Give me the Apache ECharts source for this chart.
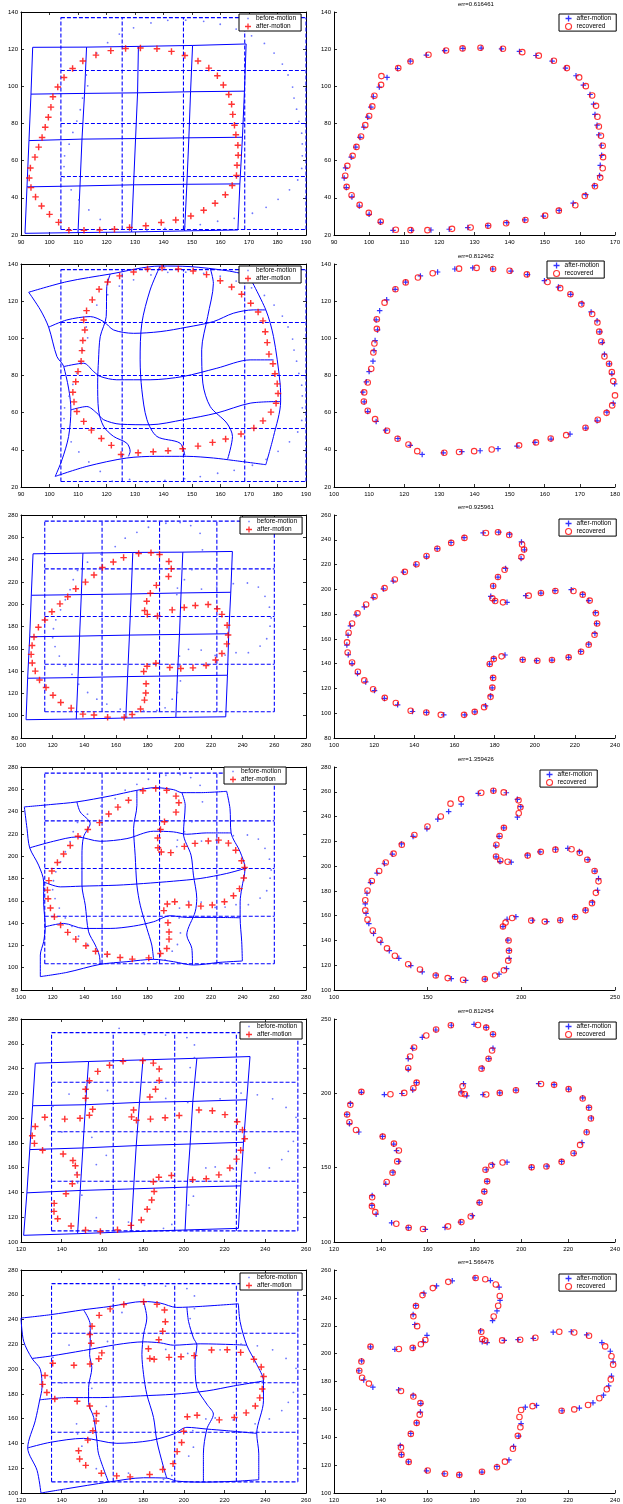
<!DOCTYPE html>
<html><head><meta charset="utf-8">
<script src="https://cdn.jsdelivr.net/npm/echarts/dist/echarts.min.js"></script>
<style>html,body{margin:0;padding:0;background:#fff}#c{width:623px;height:1504px}</style>
</head><body><div id="c"></div>
<script>
// ---------- axis ranges / tick settings [min,max,interval] ----------
const xRangeL = [[90,190,10],[90,190,10],[100,280,20],[100,280,20],[120,260,20],[120,260,20]];
const yRangeL = [[20,140,20],[20,140,20],[80,280,20],[80,280,20],[100,280,20],[100,280,20]];
const xRangeR = [[90,170,10],[100,180,10],[100,240,20],[100,250,50],[120,240,20],[120,240,20]];
const yRangeR = [[20,140,20],[20,140,20],[80,260,20],[100,280,20],[100,250,50],[100,260,20]];
const errTitles = ['err=0.616461','err=0.812462','err=0.925961','err=1.359426','err=0.812454','err=1.566476'];

// ---------- undeformed (dashed) control grids ----------
const dashX12 = [104,125.5,147,168.5,190], dashY12 = [23,51.5,80,108.5,137];
const dashX34 = [115,151.2,187.5,223.7,260], dashY34 = [103.5,146.2,189,231.7,274.5];
const dashX56 = [135,165.3,195.5,225.8,256], dashY56 = [109,149,189,229,269];

// ---------- before-motion points ----------
const before12 = [[120.4,123.5],[124.5,128.1],[129.5,131.5],[135.6,134.1],[141.5,135.5],[147.8,135.6],[154.1,135.0],[159.9,133.4],[165.5,130.8],[170.9,127.2],[175.4,123.1],[178.8,117.9],[181.7,112.0],[183.7,106.1],[185.3,99.6],[185.8,93.7],[186.7,87.7],[187.5,81.1],[188.5,74.8],[188.7,69.0],[188.7,62.6],[188.5,55.8],[187.1,49.6],[184.2,44.3],[180.2,39.2],[176.0,34.9],[171.2,31.7],[164.8,29.0],[159.0,27.4],[152.9,25.6],[147.4,24.5],[140.5,23.6],[134.2,22.7],[128.1,24.1],[122.0,23.1],[117.8,28.4],[113.8,33.5],[110.3,38.9],[107.6,44.3],[105.1,51.3],[105.1,56.8],[105.3,62.6],[106.9,68.9],[108.2,75.2],[109.6,81.3],[110.8,87.4],[111.6,93.7],[113.4,100.3],[112.9,106.1],[116.6,117.9]];
const before34 = [[135.7,230.3],[142.0,237.7],[150.5,245.0],[159.5,251.7],[165.8,259.2],[173.2,264.5],[180.5,269.0],[191.5,272.6],[200.5,273.2],[207.2,270.5],[213.1,263.6],[214.6,248.8],[207.9,231.0],[203.2,222.0],[198.8,214.5],[198.4,208.6],[214.0,213.6],[223.6,215.4],[234.1,218.4],[243.0,219.0],[249.9,215.4],[254.1,207.1],[256.9,197.3],[258.0,187.7],[257.3,180.3],[255.2,169.0],[251.0,162.4],[243.6,156.5],[235.8,156.5],[228.9,154.4],[222.6,154.1],[213.8,158.9],[205.8,159.5],[200.1,153.5],[199.9,144.6],[200.7,131.2],[198.8,120.8],[195.5,114.8],[191.0,107.1],[185.8,104.7],[177.4,104.4],[162.7,105.9],[154.2,110.4],[147.9,114.8],[142.1,120.8],[136.4,128.2],[132.2,137.1],[128.0,144.6],[124.2,153.5],[121.5,162.0],[120.0,170.0],[120.5,178.0],[122.0,186.0],[125.0,195.0],[128.0,204.0],[131.0,213.0],[133.0,222.0]];
const before56 = [[168.2,272.5],[180.7,267.7],[191.0,267.0],[201.5,265.0],[205.2,259.1],[205.2,248.9],[203.1,240.8],[196.2,229.0],[191.1,215.9],[201.9,212.7],[217.8,215.6],[228.1,220.2],[236.1,218.8],[243.6,215.6],[250.2,208.6],[255.1,200.6],[255.9,192.0],[253.8,181.3],[251.3,173.2],[248.1,166.5],[242.0,159.8],[235.0,155.8],[224.3,159.0],[215.4,160.6],[210.8,159.8],[204.4,150.4],[204.7,137.0],[202.4,129.8],[194.1,114.2],[190.0,111.0],[181.0,108.9],[172.8,116.1],[157.0,119.6],[149.9,137.8],[147.8,147.8],[147.3,155.8],[157.0,162.5],[161.9,170.0],[154.8,184.5],[140.1,188.8],[134.4,193.9],[135.7,209.5],[143.6,219.4],[162.5,222.3],[169.6,245.7]];

// ---------- after-motion points ----------
const after1 = [[126.7,120.4],[131.9,120.6],[137.7,120.2],[142.8,118.8],[147.5,116.6],[152.1,113.6],[155.9,109.8],[158.9,105.7],[161.0,100.7],[162.9,95.6],[163.9,90.4],[164.3,84.9],[164.9,79.1],[165.4,73.9],[166.1,68.3],[166.2,62.9],[165.8,57.5],[165.6,52.0],[164.1,46.6],[161.7,41.7],[158.1,37.1],[154.1,33.3],[149.6,30.2],[144.3,28.1],[139.2,26.7],[133.8,25.0],[128.1,24.0],[122.8,23.1],[117.6,22.7],[112.1,22.5],[106.8,22.5],[103.2,26.8],[100.0,31.1],[97.2,35.6],[95.1,40.5],[93.5,45.5],[92.9,50.7],[93.3,56.1],[94.9,61.9],[96.2,67.3],[97.4,72.5],[98.5,78.0],[99.6,83.4],[100.5,88.8],[101.2,94.4],[102.9,99.6],[105.1,104.8],[108.1,109.6],[111.7,113.6],[116.3,116.8],[121.5,119.2]];
const after2 = [[129.5,135.7],[134.4,137.3],[139.5,137.9],[145.2,137.3],[150.4,136.2],[155.1,134.3],[159.9,131.0],[163.9,127.6],[167.4,123.7],[170.6,118.9],[173.2,114.2],[174.9,109.4],[175.7,103.5],[176.4,97.7],[177.0,91.5],[178.4,86.3],[179.1,80.9],[179.9,75.5],[180.2,70.3],[179.5,65.1],[177.7,60.3],[174.9,55.6],[171.7,51.7],[167.2,48.5],[161.8,45.8],[157.2,44.0],[152.1,42.0],[146.7,40.6],[141.6,39.5],[136.4,39.0],[131.1,38.4],[125.1,37.5],[121.7,42.4],[118.2,46.1],[114.7,50.6],[112.0,55.3],[109.6,60.6],[108.6,65.8],[108.2,71.0],[109.2,76.6],[110.0,82.1],[111.1,87.7],[111.4,93.4],[111.7,98.8],[112.4,104.5],[112.0,109.9],[113.0,114.9],[115.0,120.7],[117.4,126.4],[120.4,130.3],[124.6,133.6]];
const after3 = [[174.3,245.5],[182.1,246.1],[187.5,244.5],[193.4,238.3],[194.9,231.9],[193.2,224.9],[185.5,216.9],[181.7,209.9],[179.4,202.7],[178.1,194.4],[179.8,190.9],[186.2,189.5],[195.5,194.9],[203.1,197.0],[210.1,198.9],[218.2,199.7],[223.9,196.0],[226.9,190.9],[230.2,181.2],[230.8,172.4],[230.0,164.4],[226.9,155.8],[222.9,149.9],[216.9,145.1],[208.6,142.9],[200.9,142.4],[194.0,143.2],[185.2,147.0],[179.6,144.3],[177.5,139.7],[179.0,128.7],[178.8,120.4],[178.0,114.0],[175.5,106.0],[170.2,101.1],[165.2,98.7],[154.7,98.7],[146.1,100.6],[139.1,101.4],[131.7,106.8],[125.1,111.9],[120.2,118.3],[115.8,125.3],[111.7,132.0],[109.0,140.0],[107.1,147.2],[106.4,155.0],[107.0,163.0],[108.2,170.5],[111.0,179.4],[115.1,185.8],[119.5,193.3],[124.6,200.3],[129.5,206.7],[134.6,213.9],[140.7,219.8],[146.1,226.2],[151.4,232.9],[158.3,237.8],[164.8,241.8]];
const after4 = [[177.0,258.7],[185.1,260.8],[192.0,259.2],[197.9,253.9],[199.7,248.0],[197.9,239.5],[190.6,230.9],[188.1,224.0],[186.3,216.3],[186.5,207.5],[188.6,203.7],[194.6,203.2],[203.2,208.8],[209.9,211.5],[218.3,213.6],[224.8,214.4],[231.0,211.7],[235.6,205.3],[239.3,196.0],[241.2,189.9],[240.7,180.5],[238.0,170.9],[234.2,164.5],[228.5,159.2],[220.8,156.3],[213.6,155.2],[206.0,156.3],[197.1,159.2],[192.4,157.1],[190.2,151.2],[192.8,140.3],[193.5,132.0],[193.5,125.6],[192.1,117.3],[188.1,112.8],[180.7,108.8],[170.3,107.7],[162.6,109.1],[154.5,112.0],[147.1,114.7],[141.0,119.7],[134.6,125.6],[129.5,131.7],[125.0,138.4],[121.1,145.6],[118.6,153.6],[117.1,161.9],[116.7,169.6],[117.6,178.1],[119.5,186.7],[123.0,194.4],[126.9,201.9],[131.1,209.6],[136.0,217.9],[142.2,224.0],[149.6,230.1],[155.4,237.9],[161.2,244.0],[167.9,250.1]];
const after5 = [[179.8,246.4],[185.0,244.4],[187.9,239.7],[187.9,230.4],[186.1,223.3],[183.3,217.0],[175.3,206.5],[174.3,201.0],[176.7,198.3],[183.6,199.2],[190.8,200.3],[197.7,202.1],[207.4,206.5],[214.0,205.9],[220.2,202.8],[226.2,197.0],[228.8,190.5],[229.9,183.4],[227.9,174.0],[225.9,166.9],[222.6,159.7],[217.2,154.2],[211.0,151.0],[204.3,150.2],[193.9,153.7],[187.7,152.2],[185.0,148.6],[185.4,140.8],[184.2,133.9],[182.0,126.5],[179.1,117.8],[174.0,113.4],[167.4,109.8],[159.0,108.5],[151.7,109.6],[144.6,112.9],[138.0,118.7],[136.2,124.7],[136.3,131.2],[142.1,139.0],[145.2,147.0],[147.6,154.2],[146.7,161.5],[145.5,165.8],[140.7,171.1],[130.6,174.0],[126.6,179.6],[125.5,185.8],[127.0,193.2],[131.7,200.7],[141.5,199.2],[149.0,199.9],[153.6,202.3],[155.2,207.2],[151.7,216.1],[151.7,223.3],[153.6,230.2],[157.7,237.7],[163.5,242.6],[170.1,245.8]];
const after6 = [[180.2,254.3],[186.8,252.4],[190.5,247.7],[190.9,238.2],[189.6,230.6],[187.7,223.7],[182.6,216.4],[183.3,208.6],[185.4,207.9],[192.7,209.5],[198.6,210.0],[205.1,210.9],[213.6,215.4],[221.3,215.7],[227.9,213.5],[234.4,207.9],[238.0,201.7],[239.2,194.1],[238.5,183.9],[237.3,176.8],[235.1,170.2],[230.6,164.7],[224.8,160.9],[217.4,159.0],[206.5,162.8],[201.7,161.6],[199.9,149.8],[198.9,140.8],[196.7,133.4],[194.7,123.7],[189.6,119.0],[183.2,115.0],[173.6,113.0],[167.0,113.8],[159.5,115.9],[151.8,122.3],[148.8,127.5],[148.3,134.1],[152.8,142.7],[155.3,150.3],[156.9,158.1],[157.1,164.2],[153.8,170.2],[147.6,174.0],[136.6,175.9],[132.7,181.1],[130.6,187.7],[131.8,194.8],[135.6,204.8],[146.0,203.1],[153.9,204.1],[158.2,208.4],[159.7,213.1],[154.5,220.9],[153.8,228.0],[154.9,234.6],[158.4,243.4],[163.8,248.6],[170.5,252.2]];

// ---------- recovered points ----------
const rec1 = [[131.7,120.8],[126.6,120.4],[121.9,119.3],[116.9,117.0],[111.8,113.4],[108.3,109.8],[103.5,105.5],[103.4,100.8],[101.5,94.9],[100.9,89.2],[100.0,84.0],[98.9,79.1],[97.7,73.0],[96.4,67.4],[95.3,62.6],[93.8,57.2],[93.2,51.9],[93.6,45.9],[95.0,41.4],[97.3,36.2],[99.9,31.9],[103.3,27.2],[107.6,22.8],[111.8,22.6],[116.6,22.6],[123.6,23.3],[128.9,24.0],[133.9,25.0],[139.0,26.3],[144.5,28.1],[150.1,30.4],[154.0,33.1],[158.7,36.0],[161.4,41.0],[164.3,46.2],[165.8,50.9],[166.5,55.9],[166.6,61.9],[166.5,68.0],[166.0,73.4],[165.4,78.4],[165.0,83.6],[164.6,89.5],[163.5,95.1],[161.7,100.1],[159.8,104.8],[156.3,109.8],[152.6,113.8],[148.3,116.5],[143.6,118.4],[138.1,120.2]];
const rec2 = [[135.6,137.5],[140.6,137.9],[145.3,137.3],[150.0,136.4],[154.9,134.4],[160.8,130.3],[164.4,127.0],[167.3,123.7],[170.4,118.3],[173.5,113.1],[175.0,108.5],[175.5,103.6],[176.1,98.3],[177.0,90.2],[178.3,86.3],[179.1,81.8],[179.5,77.0],[180.0,69.3],[179.2,63.9],[177.6,59.9],[175.1,56.2],[171.6,51.9],[166.1,47.9],[161.7,46.1],[157.5,44.0],[152.7,42.4],[144.9,40.2],[139.9,39.3],[135.6,38.8],[131.4,38.4],[123.7,39.3],[121.2,42.9],[118.1,46.0],[115.1,50.3],[111.7,56.5],[109.6,61.0],[108.5,66.0],[108.6,70.9],[109.6,76.2],[110.6,83.6],[111.2,92.4],[111.5,97.2],[112.2,105.1],[112.2,110.3],[114.4,119.2],[117.5,126.4],[120.4,130.1],[123.9,132.7],[128.1,135.0]];
const rec3 = [[175.7,245.5],[181.7,246.1],[187.3,243.9],[193.7,236.2],[194.7,232.1],[193.4,226.0],[185.0,215.8],[181.7,209.9],[179.3,202.7],[178.9,192.8],[180.3,190.6],[184.2,189.5],[197.0,194.9],[203.1,197.0],[210.3,198.7],[219.3,198.7],[223.9,195.7],[227.4,190.9],[230.5,180.7],[231.1,172.4],[229.8,163.3],[226.9,155.3],[223.1,149.6],[216.9,145.1],[208.6,142.9],[201.3,142.4],[194.0,143.2],[183.5,145.9],[179.6,143.7],[177.6,139.7],[179.3,128.5],[178.9,120.7],[178.0,113.2],[174.8,104.9],[170.1,101.1],[164.8,98.7],[153.2,98.7],[146.0,100.6],[138.2,102.0],[130.8,108.2],[125.3,112.4],[119.5,119.4],[115.1,126.5],[111.9,133.5],[109.0,141.0],[106.8,149.0],[106.5,157.2],[107.3,164.9],[109.0,172.4],[111.7,180.6],[116.0,187.7],[120.2,194.3],[125.2,201.0],[130.3,207.9],[135.3,214.1],[141.1,220.3],[146.1,226.9],[151.5,232.8],[158.4,237.5],[165.0,241.5]];
const rec4 = [[178.6,259.2],[185.1,260.8],[190.6,259.5],[198.5,253.1],[199.5,247.5],[198.6,242.7],[190.7,230.9],[188.4,224.3],[186.7,217.3],[186.5,207.7],[188.8,204.5],[192.7,203.5],[203.4,208.5],[210.4,211.5],[218.2,213.3],[226.8,213.6],[231.2,210.7],[235.2,205.1],[239.1,196.0],[241.2,187.7],[239.8,178.4],[237.7,170.1],[234.3,164.3],[228.7,158.9],[220.8,156.3],[212.5,155.2],[205.3,156.0],[195.1,158.1],[191.6,154.4],[190.2,151.2],[193.2,140.0],[193.4,131.7],[193.0,123.7],[190.7,116.0],[186.0,111.7],[180.5,108.8],[168.9,108.3],[160.7,109.6],[154.3,111.7],[145.9,116.5],[139.6,120.8],[132.5,127.7],[128.3,133.6],[124.3,140.5],[120.7,148.0],[117.9,156.8],[116.7,164.3],[116.7,172.5],[117.9,180.3],[120.2,188.0],[124.1,196.0],[127.6,202.9],[131.8,210.1],[136.2,217.3],[142.9,225.1],[149.9,232.0],[157.0,240.0],[162.2,250.4],[167.9,254.1]];
const rec5 = [[181.5,246.0],[185.0,244.2],[187.9,239.7],[187.5,228.8],[186.0,223.3],[183.0,216.6],[174.9,204.8],[174.4,199.9],[175.9,199.4],[185.0,199.2],[190.8,200.3],[197.7,202.1],[208.4,206.3],[214.0,205.7],[220.2,202.8],[226.2,196.5],[228.9,190.3],[229.7,183.1],[227.9,173.8],[225.1,165.3],[222.3,159.7],[217.2,153.9],[210.7,150.8],[204.4,150.2],[192.0,153.5],[187.2,151.5],[184.7,148.6],[185.4,140.8],[184.2,133.9],[182.2,126.5],[178.4,117.2],[174.4,113.4],[168.7,110.5],[158.0,108.7],[151.9,109.6],[146.6,112.3],[137.6,120.1],[136.2,124.1],[136.3,130.1],[142.5,140.4],[145.0,146.6],[147.0,154.2],[147.7,161.5],[145.6,166.2],[140.8,170.9],[129.4,175.3],[126.6,180.5],[125.6,185.8],[127.0,192.3],[131.7,201.0],[144.1,199.4],[150.0,200.3],[153.9,203.4],[155.3,207.2],[151.7,217.0],[152.5,224.8],[154.2,230.8],[159.4,238.9],[163.6,242.9],[169.9,245.8]];
const rec6 = [[180.5,254.3],[184.6,253.4],[189.1,249.6],[190.8,241.3],[190.1,234.4],[188.2,226.6],[182.9,215.7],[183.3,210.5],[184.6,209.3],[191.8,209.5],[199.5,210.0],[206.0,211.4],[216.2,215.7],[222.6,215.2],[228.9,212.8],[235.8,205.2],[238.5,198.1],[239.2,192.0],[238.2,181.5],[236.5,174.4],[233.3,168.0],[228.5,163.1],[222.6,160.0],[217.2,159.0],[204.8,162.3],[199.9,159.5],[199.2,154.5],[199.6,147.2],[198.5,141.0],[196.4,131.8],[193.0,122.5],[189.6,118.5],[183.2,115.2],[173.5,113.0],[167.4,113.8],[160.0,116.1],[151.9,122.3],[148.8,127.5],[148.6,132.7],[152.8,142.4],[155.3,150.3],[156.6,156.2],[156.9,164.5],[153.9,169.2],[148.6,173.2],[134.9,178.5],[132.0,182.7],[130.8,187.7],[131.7,194.3],[135.6,205.0],[147.7,203.3],[153.6,204.1],[157.1,206.7],[159.0,209.8],[155.5,219.7],[153.9,226.8],[155.0,234.2],[157.8,242.0],[162.2,247.0],[168.8,251.5]];

// ---------- deformed (solid) grids ----------
const nodes1 = [
 [[94.1,121.0],[113.0,121.1],[131.2,121.5],[150.2,122.0],[169.0,122.8]],
 [[93.5,95.8],[112.3,96.2],[130.9,96.5],[149.5,97.1],[168.4,97.4]],
 [[92.8,70.8],[111.4,71.6],[130.2,71.9],[148.9,72.3],[167.7,72.6]],
 [[92.1,45.9],[110.7,46.4],[129.5,47.0],[148.2,47.3],[166.8,47.5]],
 [[91.4,20.9],[110.0,21.3],[128.8,21.6],[147.4,22.2],[166.1,22.7]]];
const nodes3 = [
 [[107.6,245.2],[139.1,245.8],[170.6,246.4],[202.2,246.7],[233.5,247.3]],
 [[106.5,208.0],[138.1,208.6],[169.6,209.2],[201.1,210.1],[232.5,210.7]],
 [[105.5,170.8],[137.0,171.4],[168.5,172.3],[200.1,172.9],[231.2,173.5]],
 [[104.2,133.6],[136.0,134.2],[167.3,135.1],[198.8,135.7],[230.4,136.3]],
 [[103.2,96.4],[134.9,97.0],[166.2,97.9],[197.8,98.5],[229.3,99.0]]];
const nodes5 = [
 [[127.0,244.3],[153.2,245.7],[179.9,247.0],[206.4,248.3],[232.5,249.7]],
 [[125.7,210.0],[151.7,210.8],[178.2,212.7],[204.4,213.5],[230.9,214.8]],
 [[124.3,174.6],[150.4,175.9],[176.6,177.8],[203.1,179.1],[229.3,180.5]],
 [[122.9,139.7],[149.1,141.6],[175.3,142.9],[201.6,144.3],[228.0,145.3]],
 [[121.3,105.4],[147.8,106.7],[174.1,108.3],[200.6,109.7],[226.8,111.0]]];
const curves2H = [
 [[92.7,124.8],[106.1,130.5],[121.3,134.6],[138.8,138.9],[149.3,138.6],[162.2,136.4],[169.8,134.1]],
 [[99.7,106.0],[106.1,109.9],[114.3,111.7],[119.0,109.0],[122.5,104.5],[129.5,102.7],[138.8,103.6],[148.2,106.0],[157.5,109.0],[164.5,113.5],[171.5,115.3],[175.9,115.3]],
 [[105.0,84.8],[112.0,86.6],[115.5,82.1],[117.8,79.5],[123.6,77.7],[135.3,77.7],[147.0,79.5],[158.7,83.9],[170.4,88.4],[178.6,88.4]],
 [[107.5,61.5],[113.1,63.3],[116.6,59.8],[119.0,56.2],[124.8,53.8],[135.3,53.5],[147.0,56.2],[158.7,59.8],[170.4,65.1],[181.1,66.0]],
 [[102.0,25.7],[113.1,31.1],[127.1,35.6],[137.7,36.5],[148.2,36.5],[157.5,35.6],[164.5,34.3],[175.9,32.0]]];
const curves2V = [
 [[92.7,124.8],[96.8,115.3],[99.7,106.0],[102.6,90.2],[105.0,84.8],[107.5,61.5],[106.7,47.2],[104.4,34.7],[102.0,25.7]],
 [[121.3,134.6],[120.1,127.8],[119.9,111.7],[117.8,100.9],[117.2,88.4],[116.9,75.9],[117.2,61.5],[119.0,52.6],[122.5,47.2],[127.1,43.6],[128.3,39.2],[127.7,36.5]],
 [[138.8,138.9],[135.3,126.0],[132.4,108.1],[131.8,88.4],[132.4,72.3],[134.2,56.2],[137.7,47.2],[145.8,43.6],[147.5,37.0]],
 [[156.4,137.7],[157.5,129.6],[155.5,111.7],[153.4,93.8],[153.8,75.9],[156.4,63.3],[162.2,54.4],[164.2,47.2],[162.5,35.0]],
 [[169.8,134.1],[175.9,115.3],[178.6,100.9],[180.9,75.9],[181.1,66.0],[178.6,47.2],[175.9,32.0]]];
const curves4H = [
 [[102.1,244.2],[118.5,246.3],[135.3,248.7],[156.3,254.0],[173.2,259.1],[184.7,261.5],[196.3,259.7],[201.6,257.0],[213.1,257.0],[229.9,258.2]],
 [[105.5,207.5],[120.6,213.4],[135.3,217.3],[150.0,213.4],[166.9,215.8],[183.7,222.4],[196.3,221.8],[204.7,219.7],[217.3,220.9],[232.7,220.9]],
 [[114.3,177.0],[124.8,172.5],[137.4,173.1],[160.6,174.0],[177.4,175.5],[196.3,177.6],[213.1,180.0],[229.9,184.5],[241.5,189.0]],
 [[115.3,136.7],[126.9,139.7],[139.5,135.2],[156.3,135.2],[171.1,137.3],[183.7,141.2],[194.2,146.6],[204.7,145.1],[221.5,145.1],[238.4,144.8]],
 [[112.2,92.0],[129.0,95.8],[150.0,103.0],[166.9,105.4],[183.7,107.5],[196.3,105.4],[208.9,102.4],[225.7,104.8],[239.8,106.0]]];
const curves4V = [
 [[102.1,244.2],[103.8,224.8],[105.5,207.5],[111.1,192.0],[114.3,177.0],[114.3,159.1],[115.3,136.7],[114.3,123.3],[112.2,111.3],[112.2,92.0]],
 [[135.3,248.7],[137.4,239.7],[143.7,229.3],[139.5,217.3],[138.5,200.9],[138.5,174.0],[140.6,156.1],[142.7,132.2],[146.9,120.3],[149.4,111.3],[150.0,103.0]],
 [[173.2,259.1],[173.2,245.7],[171.1,224.8],[172.1,200.9],[173.2,174.0],[175.3,156.1],[179.5,135.2],[182.6,120.3],[183.7,107.5]],
 [[201.6,257.0],[203.7,245.7],[202.6,220.3],[207.4,200.9],[208.9,183.0],[211.0,162.1],[210.0,150.1],[204.7,129.3],[207.9,117.3],[208.3,102.4]],
 [[229.9,258.2],[232.0,242.7],[232.7,220.9],[238.4,203.9],[241.5,189.0],[239.4,171.0],[238.4,159.1],[238.4,144.8],[239.4,123.3],[239.8,106.0]]];
const curves6H = [
 [[120.0,241.2],[134.4,243.9],[150.7,247.9],[163.8,250.6],[180.2,254.6],[188.4,253.3],[196.5,249.8],[208.0,250.6],[226.8,252.7]],
 [[125.4,208.6],[134.4,210.5],[150.7,215.0],[167.1,219.8],[180.2,222.0],[188.4,221.2],[194.9,219.3],[208.0,220.4],[224.4,219.8],[230.9,219.3]],
 [[129.2,175.2],[142.6,177.0],[158.9,177.0],[178.6,178.4],[194.9,179.7],[211.3,182.4],[224.4,186.4],[239.1,190.4]],
 [[123.3,136.4],[134.4,140.9],[150.7,144.1],[167.1,140.1],[183.5,142.3],[194.9,147.6],[201.5,153.0],[211.3,151.6],[221.1,150.3],[235.8,148.1]],
 [[129.8,100.0],[142.6,103.5],[163.0,108.8],[180.2,112.3],[191.6,112.0],[196.5,109.6],[209.6,108.8],[224.4,109.4],[236.8,110.7]]];
const curves6V = [
 [[120.0,241.2],[121.3,222.5],[125.4,208.6],[129.5,199.8],[130.3,185.1],[129.2,175.2],[127.0,158.3],[123.3,136.4],[127.9,118.2],[129.8,100.0]],
 [[150.7,247.9],[154.0,235.9],[154.0,222.5],[153.7,211.8],[154.8,201.1],[153.2,185.1],[153.2,173.0],[155.7,161.0],[157.3,142.3],[158.1,131.6],[163.0,108.8]],
 [[180.2,254.6],[181.8,241.2],[180.2,227.8],[179.4,211.8],[180.2,195.8],[181.8,179.7],[185.1,161.0],[186.7,142.3],[190.0,120.9],[191.6,112.0]],
 [[201.5,249.8],[202.3,238.5],[204.7,225.2],[206.4,219.3],[205.5,206.5],[206.4,185.1],[211.3,171.7],[214.5,163.7],[211.3,151.6],[209.6,131.6],[209.6,108.8]],
 [[226.8,252.7],[227.6,238.5],[230.9,219.3],[235.8,203.8],[239.1,190.4],[239.1,174.4],[235.8,148.1],[236.8,131.6],[236.8,110.7]]];

// ---------- layout ----------
const rowTops = [12, 264, 515, 767, 1019, 1270];
const panelH = 223;
const leftPanel = [21, 285], rightPanel = [334, 284];
const legendPosL = [[239,14],[239,266],[240,517],[224,767],[240,1022],[240,1273]];
const legendPosR = [[559,14],[547,261],[559,519],[540,770],[559,1022],[559,1274]];

const FONT = '"Liberation Sans", Arial, Helvetica, sans-serif';
const BLUE = '#0000ff', RED = '#ff0000', DOTBLUE = '#4a55ff';
const PLUS = 'path://M-1,-0.22L-0.22,-0.22L-0.22,-1L0.22,-1L0.22,-0.22L1,-0.22L1,0.22L0.22,0.22L0.22,1L-0.22,1L-0.22,0.22L-1,0.22Z';
const DOT = 'path://M-5,-5M5,5M-1.2,-1.2L1.2,-1.2L1.2,1.2L-1.2,1.2Z';

const option = {animation:false, backgroundColor:'#fff', grid:[], xAxis:[], yAxis:[], series:[], legend:[], title:[]};

function axis(gi, r, pos, lab) {
  return {type:'value', gridIndex:gi, position:pos, min:r[0], max:r[1], interval:r[2],
    axisLine:{show:true, onZero:false, lineStyle:{color:'#000', width:1}},
    axisTick:{show:true, inside:true, length:3, lineStyle:{color:'#000', width:0.8}},
    axisLabel:{show:lab, fontSize:6, color:'#000', fontFamily:FONT, margin:(pos==='bottom'?4:3), showMinLabel:true, showMaxLabel:true},
    splitLine:{show:false}};
}
function makePanel(left, top, w, h, xr, yr, box) {
  const gi = option.grid.length;
  option.grid.push({left:left, top:top, width:w, height:h});
  const xi = option.xAxis.length, yi = option.yAxis.length;
  option.xAxis.push(axis(gi, xr, 'bottom', true));
  option.yAxis.push(axis(gi, yr, 'left', true));
  if (box) { option.xAxis.push(axis(gi, xr, 'top', false)); option.yAxis.push(axis(gi, yr, 'right', false)); }
  return {x:xi, y:yi};
}
function addLine(ax, pts, style, smooth, z) {
  option.series.push({type:'line', xAxisIndex:ax.x, yAxisIndex:ax.y, data:pts, symbol:'none',
    smooth: smooth ? 0.3 : false, lineStyle:style, silent:true, z:z, clip:true});
}
function addDashed(ax, dx, dy) {
  const st = {color:BLUE, width:1.1, type:[4,2]};
  dx.forEach(x => addLine(ax, [[x, dy[0]], [x, dy[dy.length-1]]], st, false, 1));
  dy.forEach(y => addLine(ax, [[dx[0], y], [dx[dx.length-1], y]], st, false, 1));
}
function addNodes(ax, nodes) {
  const st = {color:BLUE, width:1};
  nodes.forEach(row => addLine(ax, row, st, false, 2));
  for (let c = 0; c < nodes[0].length; c++) addLine(ax, nodes.map(r => r[c]), st, false, 2);
}
function addCurves(ax, hs, vs) {
  const st = {color:BLUE, width:1};
  hs.concat(vs).forEach(c => addLine(ax, c, st, true, 2));
}
function addScatter(ax, name, data, symbol, size, style, z) {
  option.series.push({type:'scatter', name:name, xAxisIndex:ax.x, yAxisIndex:ax.y, data:data,
    symbol:symbol, symbolSize:size, itemStyle:style, silent:true, z:z, clip:true});
}
function addLegend(pos, items) {
  option.legend.push({left:pos[0], top:pos[1], orient:'vertical', selectedMode:false, data:items,
    formatter: n => n.split('#')[0], itemWidth:6, itemHeight:6, itemGap:1, padding:[1,5,1,6],
    borderColor:'#000', borderWidth:1, backgroundColor:'#fff',
    textStyle:{fontSize:6.5, fontFamily:FONT, color:'#000', lineHeight:7}, z:10});
}

const beforeSets = [before12, before12, before34, before34, before56, before56];
const afterSets = [after1, after2, after3, after4, after5, after6];
const recSets = [rec1, rec2, rec3, rec4, rec5, rec6];
const dashSets = [[dashX12,dashY12],[dashX12,dashY12],[dashX34,dashY34],[dashX34,dashY34],[dashX56,dashY56],[dashX56,dashY56]];

for (let r = 0; r < 6; r++) {
  const top = rowTops[r];
  const axL = makePanel(leftPanel[0], top, leftPanel[1], panelH, xRangeL[r], yRangeL[r], true);
  addDashed(axL, dashSets[r][0], dashSets[r][1]);
  if (r === 0) addNodes(axL, nodes1);
  if (r === 2) addNodes(axL, nodes3);
  if (r === 4) addNodes(axL, nodes5);
  if (r === 1) addCurves(axL, curves2H, curves2V);
  if (r === 3) addCurves(axL, curves4H, curves4V);
  if (r === 5) addCurves(axL, curves6H, curves6V);
  const nb = 'before-motion#L' + r, na = 'after-motion#L' + r;
  addScatter(axL, nb, beforeSets[r], 'circle', 1.8, {color:DOTBLUE}, 3);
  addScatter(axL, na, afterSets[r], PLUS, 6.5, {color:RED}, 4);
  addLegend(legendPosL[r], [
    {name:nb, icon:DOT, itemStyle:{color:DOTBLUE}},
    {name:na, icon:PLUS, itemStyle:{color:RED}}]);
  const axR = makePanel(rightPanel[0], top, rightPanel[1], panelH, xRangeR[r], yRangeR[r], false);
  const ra = 'after-motion#R' + r, rr = 'recovered#R' + r;
  addScatter(axR, ra, afterSets[r], PLUS, 5.5, {color:BLUE}, 3);
  addScatter(axR, rr, recSets[r], 'circle', 5.5, {color:'rgba(0,0,0,0)', borderColor:RED, borderWidth:1.1}, 4);
  addLegend(legendPosR[r], [
    {name:ra, icon:PLUS, itemStyle:{color:BLUE}},
    {name:rr, icon:'circle', itemStyle:{color:'rgba(0,0,0,0)', borderColor:RED, borderWidth:1.1}}]);
  option.title.push({text:errTitles[r], left:458, top:top-11, padding:0,
    textStyle:{fontSize:6, fontWeight:'normal', fontFamily:FONT, color:'#000'}});
}

const chart = echarts.init(document.getElementById('c'), null, {renderer:'canvas'});
chart.setOption(option);
</script></body></html>
